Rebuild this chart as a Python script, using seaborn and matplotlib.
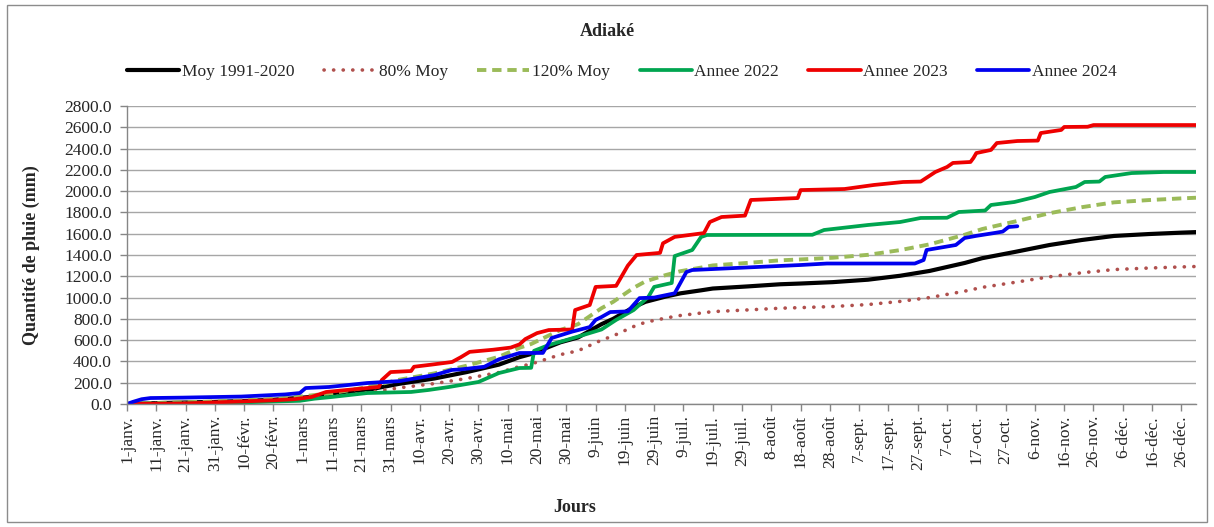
import matplotlib
matplotlib.use("Agg")
import matplotlib.pyplot as plt
from matplotlib.patches import Rectangle
import seaborn as sns
import pandas as pd

# ---------------- data ----------------
tick_days = [1, 11, 21, 31, 41, 51, 61, 71, 81, 91, 101, 111, 121, 131, 141, 151, 161, 171, 181,
             191, 201, 211, 221, 231, 241, 251, 261, 271, 281, 291, 301, 311, 321, 331, 341, 351, 361]
tick_labels = ["1-janv.", "11-janv.", "21-janv.", "31-janv.", "10-févr.", "20-févr.", "1-mars",
               "11-mars", "21-mars", "31-mars", "10-avr.", "20-avr.", "30-avr.", "10-mai",
               "20-mai", "30-mai", "9-juin", "19-juin", "29-juin", "9-juil.", "19-juil.",
               "29-juil.", "8-août", "18-août", "28-août", "7-sept.", "17-sept.", "27-sept.",
               "7-oct.", "17-oct.", "27-oct.", "6-nov.", "16-nov.", "26-nov.", "6-déc.",
               "16-déc.", "26-déc."]

moy_days = [1, 11, 21, 31, 41, 51, 61, 71, 83, 94, 106, 117, 128, 135, 139, 149, 155, 163, 167, 174,
            178, 185, 190, 197, 201, 213, 224, 231, 242, 254, 265, 275, 287, 293, 304, 316, 327, 338,
            350, 361, 366]
moy = [0, 8, 14, 20, 28, 40, 60, 85, 132, 190, 240, 300, 370, 440, 470, 580, 625, 750, 800, 910,
       960, 1010, 1040, 1068, 1085, 1105, 1125, 1132, 1145, 1168, 1205, 1250, 1325, 1370, 1428,
       1494, 1541, 1579, 1597, 1610, 1615]
moy80 = [0, 6.4, 11.2, 16, 22.4, 32, 48, 68, 105.6, 152, 192, 240, 296, 352, 376, 464, 500, 600,
         640, 728, 768, 808, 832, 854.4, 868, 884, 900, 905.6, 916, 934.4, 964, 1000, 1060, 1096,
         1142.4, 1195.2, 1232.8, 1263.2, 1277.6, 1288, 1292]
moy120 = [0, 9.6, 16.8, 24, 33.6, 48, 72, 102, 158.4, 228, 288, 360, 444, 528, 564, 696, 750, 900,
          960, 1092, 1152, 1212, 1248, 1281.6, 1302, 1326, 1350, 1358.4, 1374, 1401.6, 1446, 1500,
          1590, 1644, 1713.6, 1792.8, 1849.2, 1894.8, 1916.4, 1932, 1938]

y2022_days = [1, 20, 40, 60, 65, 71, 83, 98, 104, 111, 121, 128, 135, 139, 140, 145, 151, 157, 163,
              168, 174, 179, 181, 187, 188, 194, 197, 199, 235, 239, 254, 265, 272, 281, 285, 294,
              296, 304, 311, 316, 325, 328, 333, 335, 344, 355, 366]
y2022 = [0, 5, 15, 30, 50, 66, 103, 113, 132, 160, 207, 291, 338, 340, 500, 554, 601, 650, 700,
         790, 883, 1006, 1100, 1137, 1390, 1447, 1569, 1588, 1590, 1635, 1682, 1710, 1748, 1750,
         1804, 1818, 1870, 1898, 1945, 1992, 2039, 2086, 2090, 2133, 2170, 2180, 2180]

y2023_days = [1, 20, 31, 41, 51, 58, 61, 64, 69, 83, 87, 88, 91, 98, 99, 105, 112, 115, 118, 126,
              132, 135, 137, 141, 145, 153, 154, 159, 161, 168, 172, 175, 183, 184, 188, 198, 200,
              204, 212, 214, 230, 231, 246, 256, 266, 272, 277, 281, 283, 289, 290, 291, 296, 298,
              305, 312, 313, 320, 321, 329, 331, 366]
y2023 = [0, 5, 15, 25, 35, 45, 55, 66, 113, 150, 160, 225, 300, 310, 350, 370, 395, 440, 490, 510,
         530, 560, 610, 666, 695, 700, 883, 930, 1100, 1110, 1300, 1400, 1420, 1510, 1570, 1606,
         1710, 1757, 1770, 1917, 1935, 2010, 2020, 2058, 2086, 2090, 2180, 2227, 2265, 2274, 2311,
         2358, 2387, 2452, 2471, 2475, 2546, 2575, 2603, 2605, 2621, 2621]

y2024_days = [1, 3, 6, 9, 20, 40, 55, 60, 62, 70, 83, 94, 106, 112, 115, 123, 128, 135, 143, 146,
              153, 159, 161, 163, 166, 172, 176, 181, 188, 192, 194, 208, 231, 240, 270, 273, 274,
              284, 287, 291, 297, 300, 302, 305]
y2024 = [0, 20, 45, 56, 60, 70, 90, 103, 150, 160, 197, 215, 272, 320, 325, 350, 420, 479, 480,
         620, 680, 723, 790, 817, 864, 870, 995, 1000, 1040, 1240, 1259, 1277, 1306, 1320, 1320,
         1353, 1447, 1494, 1560, 1580, 1606, 1620, 1663, 1670]

series_names = ["Moy 1991-2020", "80% Moy", "120% Moy", "Annee 2022", "Annee 2023", "Annee 2024"]
y_ticks = [0, 200, 400, 600, 800, 1000, 1200, 1400, 1600, 1800, 2000, 2200, 2400, 2600, 2800]

# ---------------- style ----------------
sns.set_theme(style="white")
plt.rcParams["font.family"] = ["Liberation Serif", "DejaVu Serif"]

W, H = 1214, 527
fig = plt.figure(figsize=(W / 100, H / 100), dpi=100)
ax = fig.add_axes([127 / W, 1 - 404 / H, (1196 - 127) / W, (404 - 106) / H])

specs = [
    (moy_days, moy, "#000000", "-", 3.0),
    (moy_days, moy80, "#B0504D", (0, (0.05, 2.6)), 2.6),
    (moy_days, moy120, "#9BBB59", (0, (2.4, 1.5)), 2.8),
    (y2022_days, y2022, "#00A550", "-", 2.7),
    (y2023_days, y2023, "#EE0000", "-", 2.7),
    (y2024_days, y2024, "#0000EE", "-", 2.7),
]
for (dx, dy, col, ls, lw), name in zip(specs, series_names):
    df = pd.DataFrame({"day": dx, "mm": dy})
    kw = {}
    if name == "80% Moy":
        kw["dash_capstyle"] = "round"
    sns.lineplot(data=df, x="day", y="mm", ax=ax, color=col, linestyle=ls, linewidth=lw,
                 label=name, sort=False, **kw)

ax.set_xlim(1, 366)
ax.set_ylim(0, 2800)
ax.set_yticks(y_ticks)
ax.set_yticklabels([f"{v:.1f}" for v in y_ticks], fontsize=12.5)
ax.set_xticks(tick_days)
ax.set_xticklabels(tick_labels, rotation=90, fontsize=12.5)
ax.tick_params(axis="y", direction="out", length=5, width=1, color="#868686", pad=6, left=True)
ax.tick_params(axis="x", direction="out", length=5, width=1, color="#868686", pad=3, bottom=True)
ax.yaxis.grid(True, color="#A6A6A6", linewidth=1)
ax.xaxis.grid(False)
for s in ["top", "right"]:
    ax.spines[s].set_visible(False)
for s in ["left", "bottom"]:
    ax.spines[s].set_color("#868686")
    ax.spines[s].set_linewidth(1)
ax.set_xlabel("")
ax.set_ylabel("Quantité de pluie (mm)", fontsize=13, fontweight="bold")
ax.yaxis.set_label_coords(-(127 - 40) / (1196 - 127), 0.5)

ax.legend_.remove()
handles, labels = ax.get_legend_handles_labels()
fig.legend(handles, labels, loc="center", bbox_to_anchor=(622 / W, 1 - 72 / H), ncol=6,
           frameon=False, fontsize=12.5, handlelength=3.0, handletextpad=0.15,
           columnspacing=1.7)

fig.text(0.5, 1 - 31 / H, "Adiaké", ha="center", va="center", fontsize=13, fontweight="bold")
fig.text(575 / W, 1 - 507 / H, "Jours", ha="center", va="center", fontsize=13, fontweight="bold")

fig.patches.append(Rectangle((7 / W, 5 / H), (1207 - 7) / W, (522 - 5) / H,
                             transform=fig.transFigure, fill=False, edgecolor="#8C8C8C",
                             linewidth=1))

fig.savefig("out.png", dpi=100)
